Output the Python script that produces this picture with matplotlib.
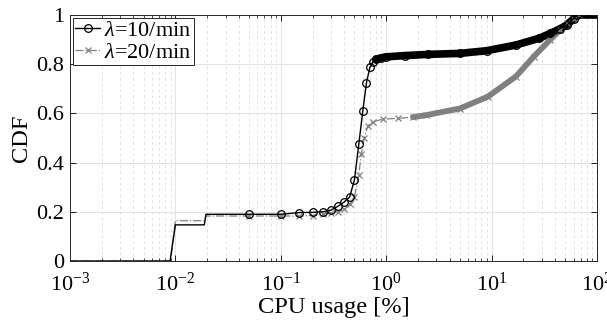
import matplotlib
matplotlib.use("Agg")
import matplotlib.pyplot as plt
from matplotlib.ticker import LogLocator, FixedLocator

# CDF readings of CPU usage for the two arrival rates
x10 = [0.001, 0.0089, 0.01, 0.0188, 0.0195, 0.05, 0.1, 0.15, 0.2, 0.25, 0.3, 0.35, 0.4, 0.45,
       0.5, 0.55, 0.6, 0.65, 0.7, 0.75, 0.8, 0.9, 1.0, 1.5, 2.5, 5, 9, 17, 28, 36, 45, 52, 60, 65, 100]
y10 = [0, 0, 0.147, 0.147, 0.19, 0.19, 0.19, 0.197, 0.198, 0.2, 0.207, 0.223, 0.24, 0.26,
       0.33, 0.475, 0.61, 0.725, 0.787, 0.81, 0.82, 0.826, 0.83, 0.835, 0.84, 0.844, 0.855, 0.878,
       0.905, 0.925, 0.945, 0.96, 0.985, 1.0, 1.0]

x20 = [0.001, 0.009, 0.01, 0.019, 0.0195, 0.05, 0.1, 0.15, 0.2, 0.25, 0.3, 0.35, 0.4, 0.45,
       0.5, 0.55, 0.58, 0.62, 0.67, 0.75, 0.93, 1.3, 1.8, 2.4, 5, 9.2, 17, 25, 36, 45, 52, 60, 67, 100]
y20 = [0, 0, 0.164, 0.164, 0.183, 0.183, 0.183, 0.183, 0.185, 0.19, 0.197, 0.2, 0.21, 0.23,
       0.26, 0.35, 0.435, 0.5, 0.55, 0.566, 0.577, 0.58, 0.585, 0.593, 0.62, 0.668, 0.75, 0.83, 0.9,
       0.94, 0.966, 0.985, 1.0, 1.0]

labels = [r"$\lambda$=10/min", r"$\lambda$=20/min"]
xticks = [1e-3, 1e-2, 1e-1, 1e0, 1e1, 1e2]
yticks = [0, 0.2, 0.4, 0.6, 0.8, 1]

plt.rcParams["font.family"] = "Liberation Serif"
plt.rcParams["mathtext.fontset"] = "custom"
plt.rcParams["mathtext.rm"] = "Liberation Serif"
plt.rcParams["mathtext.it"] = "Liberation Serif:italic"
plt.rcParams["font.size"] = 16

fig = plt.figure(figsize=(6.07, 3.3), dpi=100)
ax = fig.add_axes([0.1153, 0.209, 0.8682, 0.7455])

grey = "#808080"

# dense marker band (overlapping markers in the original) for the upper part
i10 = x10.index(0.8)
i20 = x20.index(1.8)
ax.plot(x10[i10:], y10[i10:], color="black", lw=5.5, solid_capstyle="round", zorder=3)
ax.plot(x20[i20:], y20[i20:], color=grey, lw=4.2, solid_capstyle="round", zorder=2)

ax.plot(x10, y10, color="black", lw=1.0, marker="o", ms=5.5, mfc="none", mew=0.9,
        markevery=list(range(5, len(x10) - 1)), label=labels[0], zorder=4)
ax.plot(x20, y20, color=grey, lw=0.9, ls="-.", marker="x", ms=4, mew=0.9,
        markevery=list(range(5, len(x20) - 1)), label=labels[1], zorder=3)

ax.set_xscale("log")
ax.set_xlim(1e-3, 1e2)
ax.set_ylim(0, 1)
ax.xaxis.set_major_locator(FixedLocator(xticks))
ax.xaxis.set_minor_locator(LogLocator(base=10, subs=range(2, 10), numticks=20))
ax.set_yticks(yticks)
ax.set_yticklabels(["0", "0.2", "0.4", "0.6", "0.8", "1"])

ax.grid(which="major", color="#e3e3e3", lw=0.8, ls="-")
ax.grid(which="minor", axis="x", color="#e3e3e3", lw=0.7, ls=(0, (3, 3)))
ax.set_axisbelow(True)

ax.tick_params(which="both", direction="in", top=True, right=True)
ax.tick_params(axis="y", labelsize=16, pad=4)
ax.tick_params(axis="x", labelsize=16, pad=8)
ax.tick_params(which="major", length=4, width=0.6)
ax.tick_params(which="minor", length=2, width=0.5)
for s in ax.spines.values():
    s.set_linewidth(0.7)
    s.set_color("#262626")

ax.set_xlabel("CPU usage [%]", fontsize=17.6, labelpad=1)
ax.set_ylabel("CDF", fontsize=17.6, labelpad=3)

leg = ax.legend(loc="upper left", fontsize=16, handlelength=1.1, handletextpad=0.2,
                borderpad=0.12, borderaxespad=0.12, labelspacing=0.05, fancybox=False,
                framealpha=1)
leg.get_frame().set_edgecolor("#262626")
leg.get_frame().set_linewidth(0.7)

fig.savefig("out.png", dpi=100)
